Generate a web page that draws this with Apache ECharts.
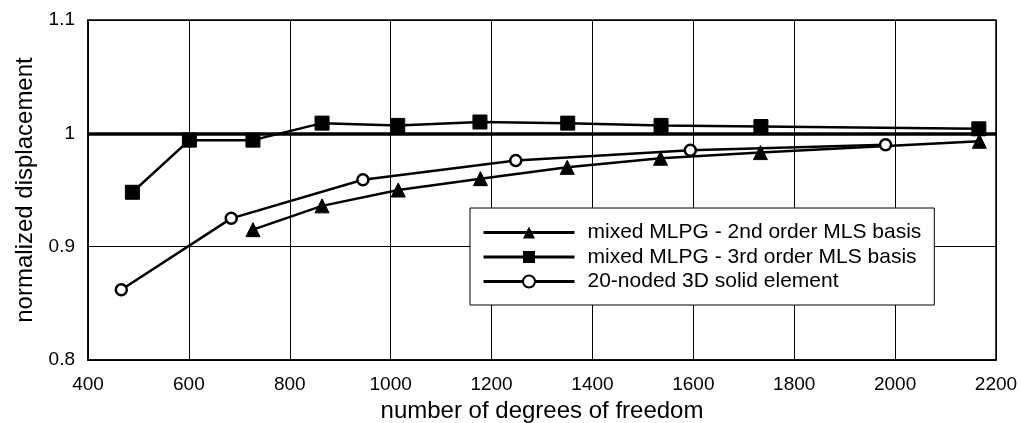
<!DOCTYPE html>
<html>
<head>
<meta charset="utf-8">
<script src="https://cdn.jsdelivr.net/npm/echarts@6/dist/echarts.min.js"></script>
<style>
  html, body { margin: 0; padding: 0; background: #fff; }
  #chart { width: 1021px; height: 423px; }
</style>
</head>
<body>
<div id="chart"></div>
<script>
// values
var dof2nd = [727, 864, 1015, 1178, 1350, 1535, 1733, 2167]
var disp2nd = [0.915, 0.936, 0.950, 0.960, 0.970, 0.978, 0.983, 0.993]
var dof3rd = [488, 601, 727, 864, 1014, 1177, 1351, 1536, 1734, 2166]
var disp3rd = [0.948, 0.994, 0.994, 1.009, 1.007, 1.010, 1.009, 1.007, 1.006, 1.004]
var dofSolid = [466, 684, 945, 1248, 1594, 1981]
var dispSolid = [0.862, 0.925, 0.959, 0.976, 0.985, 0.990]
var names = ['mixed MLPG - 2nd order MLS basis', 'mixed MLPG - 3rd order MLS basis', '20-noded 3D solid element']
var refValue = 1

var font = 'Liberation Sans, Arial, sans-serif'

function pairs(xs, ys) {
  return xs.map(function(x, i) { return [x, ys[i]] })
}

var myChart = echarts.init(document.getElementById('chart'))
var option = {
  animation: false,
  backgroundColor: '#fff',
  textStyle: { fontFamily: font, color: '#000' },
  grid: {
    left: 88,
    right: 25,
    top: 20,
    bottom: 63,
    outerBoundsMode: 'none',
    show: true,
    borderColor: '#000',
    borderWidth: 1.5
  },
  legend: {
    orient: 'vertical',
    left: 470,
    top: 208,
    width: 464,
    padding: [14, 13, 13, 12],
    backgroundColor: '#fff',
    borderColor: '#000',
    borderWidth: 1,
    itemWidth: 91,
    itemHeight: 15,
    itemGap: 3.5,
    lineStyle: { width: 3 },
    textStyle: {
      fontFamily: font,
      fontSize: 21,
      color: '#000',
      padding: [0, 0, 0, 8]
    },
    data: names
  },
  xAxis: {
    type: 'value',
    min: 400,
    max: 2200,
    interval: 200,
    name: 'number of degrees of freedom',
    nameLocation: 'middle',
    nameGap: 36,
    nameTextStyle: { fontFamily: font, fontSize: 24, color: '#000' },
    axisLine: { lineStyle: { color: '#000', width: 1.5 } },
    axisTick: { show: false },
    axisLabel: {
      fontFamily: font,
      fontSize: 19,
      color: '#000',
      margin: 15,
      formatter: function(v) { return String(v) }
    },
    splitLine: { lineStyle: { color: '#000', width: 1 } }
  },
  yAxis: {
    type: 'value',
    min: 0.8,
    max: 1.1,
    interval: 0.1,
    name: 'normalized displacement',
    nameLocation: 'middle',
    nameGap: 50,
    nameTextStyle: { fontFamily: font, fontSize: 24, color: '#000' },
    axisLine: { show: true, lineStyle: { color: '#000', width: 1.5 } },
    axisTick: { show: false },
    axisLabel: {
      fontFamily: font,
      fontSize: 19,
      color: '#000',
      margin: 13,
      formatter: function(v) { return String(Math.round(v * 10) / 10) }
    },
    splitLine: { lineStyle: { color: '#000', width: 1 } }
  },
  series: [
    {
      name: names[0],
      type: 'line',
      data: pairs(dof2nd, disp2nd),
      symbol: 'triangle',
      symbolSize: 14,
      showAllSymbol: true,
      lineStyle: { color: '#000', width: 2.5 },
      itemStyle: { color: '#000', borderColor: '#000' },
      z: 4
    },
    {
      name: names[1],
      type: 'line',
      data: pairs(dof3rd, disp3rd),
      symbol: 'rect',
      symbolSize: 14,
      showAllSymbol: true,
      lineStyle: { color: '#000', width: 2.5 },
      itemStyle: { color: '#000', borderColor: '#000' },
      z: 4,
      markLine: {
        silent: true,
        symbol: 'none',
        label: { show: false },
        lineStyle: { color: '#000', width: 3.5, type: 'solid' },
        data: [{ yAxis: refValue }]
      }
    },
    {
      name: names[2],
      type: 'line',
      data: pairs(dofSolid, dispSolid),
      symbol: 'circle',
      symbolSize: 11,
      showAllSymbol: true,
      lineStyle: { color: '#000', width: 2.5 },
      itemStyle: { color: '#fff', borderColor: '#000', borderWidth: 2.5 },
      z: 4
    }
  ]
}
myChart.setOption(option)
</script>
</body>
</html>
